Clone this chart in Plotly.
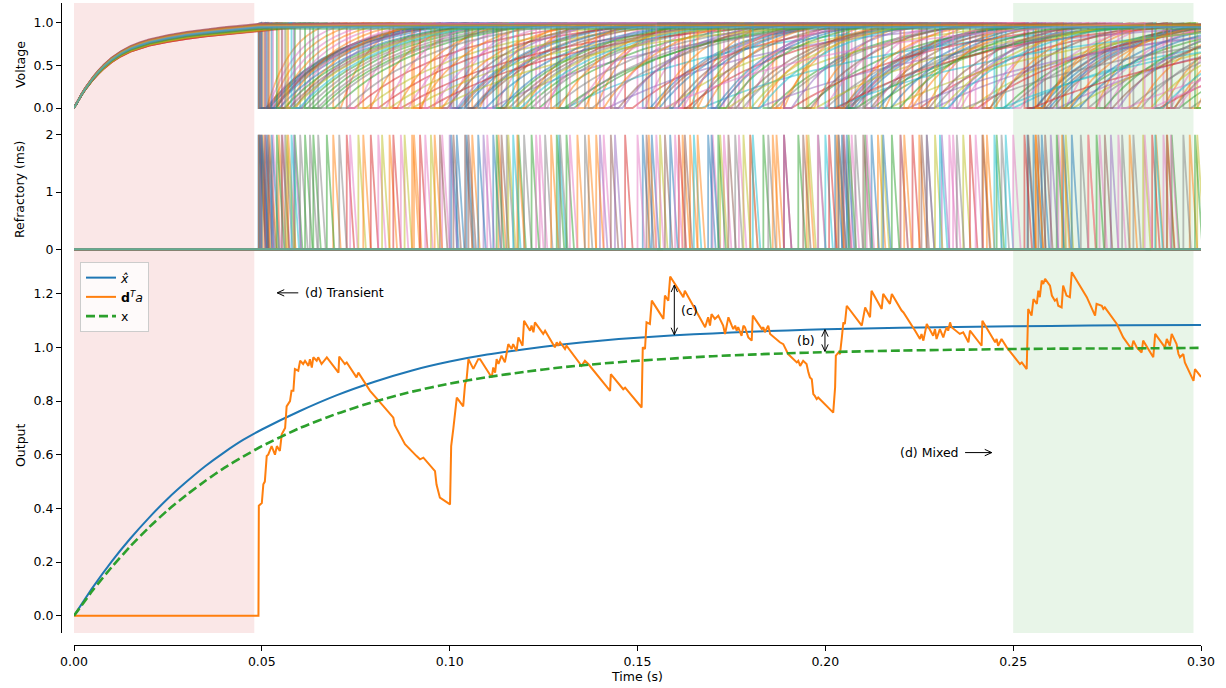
import math
import plotly.graph_objects as go

# ---------------- data ----------------
time_ticks = [0.00, 0.05, 0.10, 0.15, 0.20, 0.25, 0.30]
time_labels = ["0.00", "0.05", "0.10", "0.15", "0.20", "0.25", "0.30"]
volt_ticks = [0.0, 0.5, 1.0]
volt_labels = ["0.0", "0.5", "1.0"]
ref_ticks = [0, 1, 2]
out_ticks = [0.0, 0.2, 0.4, 0.6, 0.8, 1.0, 1.2]
out_labels = ["0.0", "0.2", "0.4", "0.6", "0.8", "1.0", "1.2"]

t_end = 0.30
onset = 0.049
refractory_ms = 2.0
transient_span = [0.0, 0.048]
mixed_span = [0.25, 0.298]

# membrane rise before input onset (shape relative to each neuron's level at onset)
pre_t = [0.0, 0.001, 0.002, 0.003, 0.004, 0.005, 0.0065, 0.008, 0.01, 0.0125, 0.015,
         0.0175, 0.02, 0.025, 0.03, 0.035, 0.04, 0.045, 0.049]
pre_shape = [0.0, 0.087, 0.166, 0.239, 0.305, 0.365, 0.446, 0.517, 0.597, 0.675, 0.735,
             0.78, 0.815, 0.865, 0.905, 0.935, 0.96, 0.98, 1.0]

# typical recovery curve between spikes (fraction of interval -> voltage)
rise_frac = [0.0, 0.05, 0.1, 0.15, 0.2, 0.3, 0.4, 0.5, 0.6, 0.7, 0.8, 0.9, 1.0]
rise_profile = [0.0, 0.128, 0.241, 0.341, 0.429, 0.575, 0.689, 0.777, 0.846, 0.900, 0.942,
                0.975, 1.0]

# spike times per neuron (last entry = next spike after the window)
spike_times = [
    [0.0491, 0.1004, 0.1514, 0.2026, 0.2538, 0.3050],
    [0.0493, 0.0690, 0.0905, 0.1130, 0.1370, 0.1620, 0.1870, 0.2140, 0.2420, 0.2700, 0.2970, 0.3250],
    [0.0588, 0.1183, 0.1835, 0.2456, 0.3100],
    [0.0726, 0.1467, 0.2232, 0.3050],
    [0.1090, 0.2270, 0.3500],
    [0.0492, 0.1010, 0.1524, 0.2035, 0.2540, 0.3060],
    [0.0497, 0.0735, 0.0980, 0.1240, 0.1500, 0.1770, 0.2050, 0.2330, 0.2620, 0.2900, 0.3190],
    [0.0602, 0.1198, 0.1848, 0.2469, 0.3150],
    [0.0757, 0.1560, 0.2367, 0.3200],
    [0.1290, 0.2480, 0.3700],
    [0.0495, 0.1019, 0.1538, 0.2044, 0.2554, 0.3070],
    [0.0503, 0.0770, 0.1060, 0.1340, 0.1640, 0.1950, 0.2250, 0.2560, 0.2880, 0.3200],
    [0.0615, 0.1218, 0.1928, 0.2616, 0.3300],
    [0.0790, 0.1610, 0.2385, 0.3250],
    [0.1400, 0.2600, 0.3800],
    [0.0498, 0.1041, 0.1573, 0.2048, 0.2567, 0.3080],
    [0.0510, 0.0810, 0.1100, 0.1410, 0.1730, 0.2070, 0.2400, 0.2730, 0.3070],
    [0.0628, 0.1254, 0.1981, 0.2680, 0.3400],
    [0.0820, 0.1720, 0.2640, 0.3600],
    [0.1650, 0.3100],
    [0.0500, 0.1045, 0.1587, 0.2057, 0.2576, 0.3090],
    [0.0520, 0.0840, 0.1180, 0.1530, 0.1860, 0.2200, 0.2560, 0.2910, 0.3270],
    [0.0637, 0.1285, 0.2106, 0.2922, 0.3700],
    [0.0850, 0.1890, 0.2870, 0.3900],
    [0.1800, 0.3300],
    [0.0508, 0.1050, 0.1626, 0.2101, 0.2585, 0.3100],
    [0.0530, 0.0870, 0.1230, 0.1600, 0.1980, 0.2340, 0.2700, 0.3080],
    [0.0650, 0.1294, 0.2035, 0.2953, 0.3800],
    [0.0880, 0.1955, 0.2990, 0.4000],
    [0.2000, 0.3500],
    [0.0513, 0.1076, 0.1688, 0.2123, 0.2633, 0.3150],
    [0.0545, 0.0900, 0.1270, 0.1660, 0.2030, 0.2430, 0.2810, 0.3200],
    [0.0673, 0.1311, 0.2062, 0.2984, 0.3800],
    [0.0921, 0.2010, 0.3100],
    [0.2200, 0.3600],
    [0.0517, 0.0974, 0.1429, 0.1941, 0.2418, 0.2909, 0.3380],
    [0.0555, 0.0935, 0.1320, 0.1700, 0.2110, 0.2500, 0.2920, 0.3330],
    [0.0706, 0.1360, 0.2080, 0.2790, 0.3500],
    [0.0950, 0.2150, 0.3400],
    [0.2450, 0.3900],
    [0.0526, 0.1116, 0.1697, 0.2154, 0.2656, 0.3200],
    [0.0570, 0.0960, 0.1390, 0.1800, 0.2210, 0.2630, 0.3060],
    [0.0540, 0.1125, 0.1715, 0.2177, 0.2722, 0.3250],
    [0.2530, 0.4000],
    [0.0585, 0.1000, 0.1440, 0.1890, 0.2310, 0.2760, 0.3200],
    [0.0553, 0.1138, 0.1742, 0.2256, 0.2744, 0.3300],
    [0.2780, 0.4200],
    [0.0562, 0.1152, 0.1760, 0.2270, 0.2820, 0.3350],
    [0.0566, 0.1156, 0.1782, 0.2292, 0.2846, 0.3400],
    [0.0579, 0.1169, 0.1807, 0.2305, 0.2878, 0.3450],
    [],
    [],
    [],
    [],
    [],
    [],
    [0.1550, 0.2850, 0.4100],
    [0.2350, 0.3800],
    [],
    [],
]
plateau = [
    0.95, 0.97, 0.93, 0.92, 0.96, 0.94, 0.98, 0.91, 0.93, 0.97,
    0.95, 0.96, 0.92, 0.90, 0.98, 0.94, 0.97, 0.93, 0.91, 0.96,
    0.95, 0.98, 0.92, 0.90, 0.97, 0.94, 0.96, 0.93, 0.91, 0.98,
    0.95, 0.97, 0.92, 0.90, 0.96, 0.94, 0.98, 0.93, 0.91, 0.97,
    0.95, 0.96, 0.94, 0.98, 0.97, 0.93, 0.99, 0.95, 0.92, 0.94,
    0.96, 0.98, 0.93, 0.97, 0.95, 0.99, 0.96, 0.94, 0.97, 0.95,
]

# decoded signals
signal_t = [0.0, 0.005, 0.01, 0.015, 0.02, 0.025, 0.03, 0.035, 0.04, 0.045, 0.05,
            0.06, 0.07, 0.08, 0.09, 0.10, 0.11, 0.12, 0.13, 0.14, 0.15, 0.16, 0.17,
            0.18, 0.19, 0.20, 0.22, 0.24, 0.26, 0.28, 0.30]
x_hat = [0.0, 0.106, 0.202, 0.288, 0.366, 0.437, 0.500, 0.558, 0.609, 0.655, 0.694,
         0.762, 0.822, 0.872, 0.914, 0.947, 0.973, 0.993, 1.011, 1.025, 1.036, 1.045, 1.052,
         1.058, 1.063, 1.067, 1.073, 1.077, 1.080, 1.082, 1.083]
x_target = [0.0, 0.095, 0.181, 0.259, 0.330, 0.394, 0.451, 0.503, 0.551, 0.593, 0.632,
            0.699, 0.753, 0.798, 0.835, 0.865, 0.889, 0.909, 0.926, 0.939, 0.950, 0.959, 0.967,
            0.973, 0.978, 0.982, 0.988, 0.992, 0.995, 0.996, 0.998]

dta_t = [0.0, 0.0491, 0.0492, 0.0500, 0.0504, 0.0508, 0.0513, 0.0517, 0.0526, 0.0535,
         0.0540, 0.0548, 0.0553, 0.0562, 0.0566, 0.0575, 0.0579, 0.0584, 0.0588, 0.0597,
         0.0602, 0.0610, 0.0615, 0.0624, 0.0628, 0.0633, 0.0637, 0.0646, 0.0650, 0.0659,
         0.0673, 0.0704, 0.0706, 0.0721, 0.0726, 0.0752, 0.0757, 0.0788, 0.0823, 0.0850,
         0.0854, 0.0868, 0.0881, 0.0912, 0.0921, 0.0930, 0.0961, 0.0965, 0.0974, 0.1001,
         0.1004, 0.1010, 0.1019, 0.1036, 0.1041, 0.1045, 0.1050, 0.1063, 0.1076, 0.1081,
         0.1112, 0.1116, 0.1121, 0.1125, 0.1130, 0.1138, 0.1147, 0.1152, 0.1156, 0.1165,
         0.1169, 0.1178, 0.1183, 0.1194, 0.1198, 0.1214, 0.1218, 0.1223, 0.1227, 0.1249,
         0.1254, 0.1280, 0.1285, 0.1289, 0.1294, 0.1307, 0.1311, 0.1351, 0.1360, 0.1369,
         0.1427, 0.1429, 0.1462, 0.1467, 0.1511, 0.1514, 0.1520, 0.1524, 0.1533, 0.1538,
         0.1569, 0.1573, 0.1582, 0.1587, 0.1622, 0.1626, 0.1680, 0.1688, 0.1693, 0.1697,
         0.1706, 0.1715, 0.1728, 0.1733, 0.1737, 0.1742, 0.1751, 0.1755, 0.1760, 0.1764,
         0.1768, 0.1777, 0.1782, 0.1786, 0.1795, 0.1804, 0.1807, 0.1831, 0.1835, 0.1839,
         0.1848, 0.1853, 0.1879, 0.1888, 0.1901, 0.1924, 0.1928, 0.1933, 0.1941, 0.1950,
         0.1955, 0.1959, 0.1964, 0.1968, 0.1972, 0.1977, 0.1981, 0.2021, 0.2026, 0.2028,
         0.2035, 0.2039, 0.2044, 0.2048, 0.2052, 0.2057, 0.2097, 0.2101, 0.2106, 0.2119,
         0.2123, 0.2150, 0.2154, 0.2172, 0.2177, 0.2203, 0.2208, 0.2239, 0.2252, 0.2256,
         0.2261, 0.2270, 0.2287, 0.2292, 0.2296, 0.2305, 0.2314, 0.2318, 0.2323, 0.2327,
         0.2332, 0.2336, 0.2358, 0.2367, 0.2381, 0.2385, 0.2416, 0.2418, 0.2438, 0.2452,
         0.2456, 0.2460, 0.2469, 0.2474, 0.2483, 0.2518, 0.2523, 0.2536, 0.2538, 0.2540,
         0.2549, 0.2554, 0.2563, 0.2567, 0.2571, 0.2576, 0.2580, 0.2585, 0.2598, 0.2603,
         0.2611, 0.2616, 0.2620, 0.2629, 0.2633, 0.2642, 0.2651, 0.2656, 0.2696, 0.2718,
         0.2722, 0.2736, 0.2740, 0.2744, 0.2776, 0.2793, 0.2815, 0.2820, 0.2829, 0.2842,
         0.2846, 0.2869, 0.2873, 0.2878, 0.2904, 0.2909, 0.2917, 0.2922, 0.2935, 0.2940,
         0.2944, 0.2953, 0.2957, 0.2980, 0.2984, 0.3000]
dta_v = [0.0, 0.0, 0.41, 0.42, 0.49, 0.50, 0.595, 0.60, 0.632, 0.60,
         0.632, 0.614, 0.676, 0.70, 0.78, 0.80, 0.838, 0.838, 0.919, 0.913,
         0.95, 0.938, 0.95, 0.931, 0.956, 0.925, 0.963, 0.95, 0.963, 0.938,
         0.963, 0.906, 0.966, 0.938, 0.944, 0.888, 0.906, 0.838, 0.782, 0.738,
         0.71, 0.676, 0.639, 0.595, 0.583, 0.589, 0.539, 0.489, 0.44, 0.415,
         0.632, 0.70, 0.813, 0.78, 0.863, 0.88, 0.956, 0.92, 0.956, 0.956,
         0.888, 0.925, 0.906, 0.956, 0.938, 0.969, 0.944, 0.981, 1.012, 0.994,
         1.012, 0.987, 1.037, 1.006, 1.099, 1.062, 1.081, 1.056, 1.093, 1.05,
         1.062, 1.0, 1.019, 1.006, 1.019, 0.994, 1.006, 0.931, 0.950, 0.938,
         0.838, 0.90, 0.844, 0.850, 0.776, 1.0, 0.994, 1.093, 1.087, 1.174,
         1.106, 1.193, 1.174, 1.264, 1.187, 1.211, 1.075, 1.112, 1.081, 1.124,
         1.106, 1.118, 1.081, 1.05, 1.081, 1.112, 1.081, 1.068, 1.081, 1.062,
         1.075, 1.043, 1.081, 1.075, 1.037, 1.025, 1.118, 1.068, 1.075, 1.056,
         1.081, 1.05, 1.019, 1.012, 0.975, 0.944, 0.95, 0.931, 0.95, 0.938,
         0.906, 0.888, 0.881, 0.826, 0.819, 0.807, 0.813, 0.757, 0.851, 0.969,
         0.981, 0.975, 1.037, 1.093, 1.087, 1.155, 1.081, 1.106, 1.149, 1.112,
         1.211, 1.143, 1.199, 1.162, 1.199, 1.137, 1.130, 1.062, 1.031, 1.05,
         1.025, 1.087, 1.043, 1.068, 1.031, 1.068, 1.037, 1.056, 1.075, 1.062,
         1.093, 1.075, 1.05, 1.056, 1.019, 1.062, 1.006, 1.099, 1.05, 1.019,
         1.031, 1.006, 1.031, 1.019, 1.0, 0.938, 0.944, 0.919, 1.012, 1.143,
         1.118, 1.18, 1.162, 1.211, 1.187, 1.249, 1.236, 1.255, 1.230, 1.193,
         1.174, 1.18, 1.155, 1.149, 1.230, 1.193, 1.187, 1.280, 1.187, 1.118,
         1.162, 1.155, 1.143, 1.149, 1.087, 1.037, 0.994, 1.025, 1.0, 0.981,
         1.025, 0.975, 0.963, 1.05, 1.0, 1.031, 1.006, 1.05, 1.012, 0.975,
         0.963, 0.975, 0.944, 0.875, 0.919, 0.89]

# annotation anchors (data coordinates)
transient_label = (0.061, 1.203)
transient_arrow = (0.0597, 0.0541, 1.203)
mixed_label = (0.2361, 0.608)
mixed_arrow = (0.2372, 0.2443, 0.608)
c_arrow = (0.1598, 1.047, 1.232)
c_label = (0.1610, 1.137)
b_arrow = (0.1999, 0.985, 1.066)
b_label = (0.1977, 1.025)

# ---------------- styling ----------------
TAB10 = ["#1f77b4", "#ff7f0e", "#2ca02c", "#d62728", "#9467bd",
         "#8c564b", "#e377c2", "#7f7f7f", "#bcbd22", "#17becf"]


def rgba(h, a):
    h = h.lstrip("#")
    return "rgba(%d,%d,%d,%.2f)" % (int(h[0:2], 16), int(h[2:4], 16), int(h[4:6], 16), a)


FONT = "DejaVu Sans"
FS = 12.5
fig = go.Figure()

ref_s = refractory_ms / 1000.0
for i, (spikes, p) in enumerate(zip(spike_times, plateau)):
    col = rgba(TAB10[i % 10], 0.5)
    vt = list(pre_t)
    vv = [s * p for s in pre_shape]
    if spikes:
        t0 = onset
        for f, u in zip(rise_frac[1:], rise_profile[1:]):
            vt.append(t0 + f * (spikes[0] - t0))
            vv.append(p + (1 - p) * u)
        for k in range(len(spikes) - 1):
            s = spikes[k]
            vt += [s, s + ref_s]
            vv += [0.0, 0.0]
            t0 = s + ref_s
            nxt = spikes[k + 1]
            for f, u in zip(rise_frac[1:], rise_profile[1:]):
                vt.append(t0 + f * (nxt - t0))
                vv.append(u)
    else:
        vt.append(t_end)
        vv.append(p)
    fig.add_trace(go.Scatter(x=vt, y=vv, mode="lines", xaxis="x3", yaxis="y3",
                             line=dict(color=col, width=1.8), showlegend=False,
                             hoverinfo="skip"))
    rt, rv = [0.0], [0.0]
    for s in spikes[:-1]:
        rt += [s, s, s + ref_s]
        rv += [0.0, refractory_ms, 0.0]
    rt.append(t_end)
    rv.append(0.0)
    fig.add_trace(go.Scatter(x=rt, y=rv, mode="lines", xaxis="x2", yaxis="y2",
                             line=dict(color=col, width=1.8), showlegend=False,
                             hoverinfo="skip"))

fig.add_trace(go.Scatter(x=signal_t, y=x_hat, mode="lines", name="<i>x̂</i>",
                         line=dict(color="#1f77b4", width=2, shape="spline", smoothing=0.6),
                         xaxis="x", yaxis="y"))
fig.add_trace(go.Scatter(x=dta_t, y=dta_v, mode="lines",
                         name="<b>d</b><sup><i>T</i></sup><i>a</i>",
                         line=dict(color="#ff7f0e", width=2), xaxis="x", yaxis="y"))
fig.add_trace(go.Scatter(x=signal_t, y=x_target, mode="lines", name="x",
                         line=dict(color="#2ca02c", width=2.6, dash="9px,4px",
                                   shape="spline", smoothing=0.6),
                         xaxis="x", yaxis="y"))

W, H = 1226, 688
ML, MR, MT, MB = 61, 12, 3, 43
pw = W - ML - MR
ph = H - MT - MB
xdom = [13 / pw, (1201 - ML) / pw]


def py2paper(py):
    return (H - MB - py) / ph


out_dom = [py2paper(633), py2paper(255)]
ref_dom = [py2paper(255), py2paper(129)]
volt_dom = [py2paper(129), 1.0]
out_range = [-0.064, 1.344]

axis_common = dict(showgrid=False, zeroline=False, showline=True, linecolor="black",
                   linewidth=1, ticks="outside", ticklen=5, tickwidth=1, tickcolor="black",
                   automargin=False,
                   tickfont=dict(family=FONT, size=FS, color="black"))

# arrows drawn as shapes (open "->" heads like matplotlib)
x_per_px = t_end / (1201 - 74)
y_per_px = (out_range[1] - out_range[0]) / (633 - 255)
shapes = [
    dict(type="rect", xref="x", yref="paper", x0=transient_span[0], x1=transient_span[1],
         y0=out_dom[0], y1=1.0, fillcolor=rgba("#d62728", 0.11), line=dict(width=0),
         layer="below"),
    dict(type="rect", xref="x", yref="paper", x0=mixed_span[0], x1=mixed_span[1],
         y0=out_dom[0], y1=1.0, fillcolor=rgba("#2ca02c", 0.11), line=dict(width=0),
         layer="below"),
]


def head(xs, ys, xe, ye, L=7.0, Wd=3.2):
    dx = (xe - xs) / x_per_px
    dy = (ye - ys) / y_per_px
    n = math.hypot(dx, dy)
    ux, uy = dx / n, dy / n
    px_, py_ = -uy, ux
    a = (xe + (-L * ux + Wd * px_) * x_per_px, ye + (-L * uy + Wd * py_) * y_per_px)
    b = (xe + (-L * ux - Wd * px_) * x_per_px, ye + (-L * uy - Wd * py_) * y_per_px)
    return dict(type="path", xref="x", yref="y",
                path="M %f,%f L %f,%f L %f,%f" % (a[0], a[1], xe, ye, b[0], b[1]),
                line=dict(color="black", width=1))


def arrow(xs, ys, xe, ye, both=False):
    shapes.append(dict(type="line", xref="x", yref="y", x0=xs, y0=ys, x1=xe, y1=ye,
                       line=dict(color="black", width=1)))
    shapes.append(head(xs, ys, xe, ye))
    if both:
        shapes.append(head(xe, ye, xs, ys))


arrow(transient_arrow[0], transient_arrow[2], transient_arrow[1], transient_arrow[2])
arrow(mixed_arrow[0], mixed_arrow[2], mixed_arrow[1], mixed_arrow[2])
arrow(c_arrow[0], c_arrow[1], c_arrow[0], c_arrow[2], both=True)
arrow(b_arrow[0], b_arrow[1], b_arrow[0], b_arrow[2], both=True)

fig.update_layout(
    width=W, height=H,
    margin=dict(l=ML, r=MR, t=MT, b=MB, autoexpand=False),
    plot_bgcolor="white", paper_bgcolor="white",
    font=dict(family=FONT, size=FS, color="black"),
    xaxis=dict(domain=xdom, range=[0, t_end], anchor="free", position=0,
               tickvals=time_ticks, ticktext=time_labels,
               title=dict(text="Time (s)", standoff=2, font=dict(family=FONT, size=FS)),
               **axis_common),
    xaxis2=dict(domain=xdom, range=[0, t_end], anchor="y2", visible=False),
    xaxis3=dict(domain=xdom, range=[0, t_end], anchor="y3", visible=False),
    yaxis=dict(domain=out_dom, range=out_range, anchor="free", position=0,
               tickvals=out_ticks, ticktext=out_labels, **axis_common),
    yaxis2=dict(domain=ref_dom, range=[-0.1, 2.1], anchor="free", position=0,
                tickvals=ref_ticks, ticktext=["0", "1", "2"], **axis_common),
    yaxis3=dict(domain=volt_dom, range=[-0.247, 1.235], anchor="free", position=0,
                tickvals=volt_ticks, ticktext=volt_labels, **axis_common),
    legend=dict(x=(80 - ML) / pw, y=py2paper(262), xanchor="left", yanchor="top",
                bgcolor="rgba(255,255,255,0.8)", bordercolor="#cccccc", borderwidth=1,
                font=dict(family=FONT, size=FS), itemwidth=30, tracegroupgap=0),
    shapes=shapes,
)

ylab_x = (20 - ML) / pw
for txt, py in [("Voltage", 65), ("Refractory (ms)", 190), ("Output", 445)]:
    fig.add_annotation(x=ylab_x, y=py2paper(py), xref="paper", yref="paper", text=txt,
                       textangle=-90, showarrow=False, xanchor="center", yanchor="middle",
                       font=dict(family=FONT, size=FS, color="black"))

anno_font = dict(family=FONT, size=FS, color="black")
fig.add_annotation(x=transient_label[0], y=transient_label[1], xref="x", yref="y",
                   text="(d) Transient", showarrow=False, xanchor="left", yanchor="middle",
                   font=anno_font)
fig.add_annotation(x=mixed_label[0], y=mixed_label[1], xref="x", yref="y",
                   text="(d) Mixed", showarrow=False, xanchor="right", yanchor="middle",
                   font=anno_font)
fig.add_annotation(x=c_label[0], y=c_label[1], xref="x", yref="y", text="(c)",
                   showarrow=False, xanchor="left", yanchor="middle", font=anno_font)
fig.add_annotation(x=b_label[0], y=b_label[1], xref="x", yref="y", text="(b)",
                   showarrow=False, xanchor="right", yanchor="middle", font=anno_font)

fig.write_html("out.html", config={"displayModeBar": False},
               post_script="document.body.style.margin='0px';")
